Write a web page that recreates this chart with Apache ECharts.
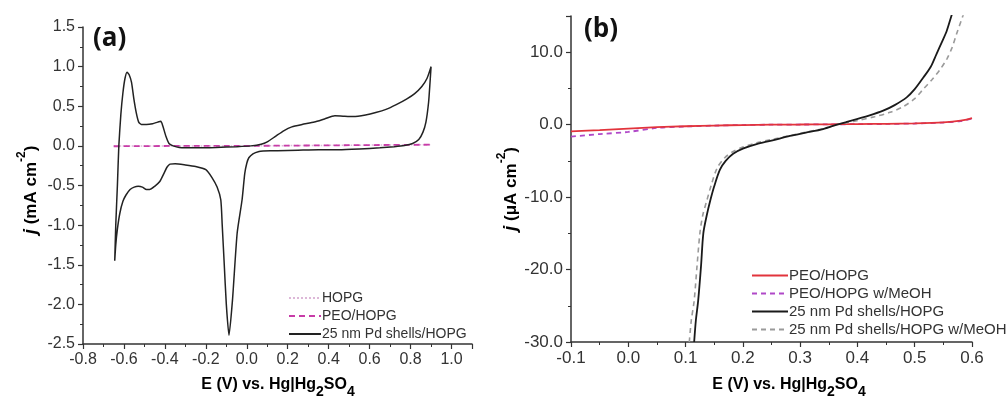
<!DOCTYPE html>
<html>
<head>
<meta charset="utf-8">
<script src="https://cdn.jsdelivr.net/npm/echarts@6/dist/echarts.min.js"></script>
<style>
html,body{margin:0;padding:0;background:#fff;}
#c{width:1006px;height:401px;}
</style>
</head>
<body>
<div id="c"></div>
<script>
// ---------- Panel (a) data: cyclic voltammogram ----------
const cvPdX = [-0.645,-0.640,-0.632,-0.625,-0.615,-0.605,-0.595,-0.585,-0.575,-0.563,-0.552,-0.540,-0.528,-0.515,-0.49,-0.46,-0.435,-0.42,-0.41,-0.395,-0.38,-0.36,-0.33,-0.25,-0.15,-0.05,0.02,0.07,0.10,0.14,0.18,0.22,0.27,0.33,0.38,0.43,0.47,0.52,0.58,0.63,0.68,0.73,0.78,0.82,0.855,0.88,0.90,
  0.895,0.888,0.875,0.86,0.84,0.81,0.77,0.72,0.65,0.55,0.45,0.35,0.25,0.15,0.08,0.06,0.03,0.01,0.0,-0.01,-0.023,-0.047,-0.07,-0.087,-0.10,-0.11,-0.12,-0.127,-0.145,-0.17,-0.2,-0.25,-0.30,-0.35,-0.375,-0.39,-0.405,-0.425,-0.45,-0.475,-0.49,-0.51,-0.53,-0.55,-0.57,-0.59,-0.605,-0.62,-0.632,-0.64,-0.645];
const cvPdY = [-1.45,-1.0,-0.5,0.0,0.4,0.67,0.85,0.93,0.90,0.80,0.60,0.42,0.30,0.27,0.27,0.28,0.30,0.31,0.25,0.12,0.03,0.0,-0.02,-0.025,-0.02,-0.01,0.0,0.02,0.05,0.12,0.19,0.24,0.27,0.30,0.34,0.38,0.375,0.37,0.39,0.42,0.46,0.52,0.59,0.66,0.75,0.85,1.0,
  0.80,0.55,0.30,0.17,0.08,0.03,0.005,-0.01,-0.025,-0.04,-0.05,-0.05,-0.055,-0.06,-0.065,-0.07,-0.10,-0.15,-0.22,-0.35,-0.68,-1.10,-1.95,-2.39,-2.0,-1.5,-1.0,-0.68,-0.52,-0.40,-0.30,-0.26,-0.24,-0.225,-0.23,-0.27,-0.35,-0.45,-0.51,-0.55,-0.55,-0.52,-0.51,-0.52,-0.55,-0.62,-0.70,-0.85,-1.05,-1.25,-1.45];
const cvHopgX = [-0.65,-0.3,0.0,0.3,0.6,0.9];
const cvHopgY = [0.0,0.0,0.0,0.005,0.01,0.015];
const cvPeoX = [-0.65,-0.3,0.0,0.3,0.6,0.9];
const cvPeoY = [-0.005,0.0,0.0,0.005,0.01,0.015];

// ---------- Panel (b) data ----------
const peoX = [-0.1,-0.05,0.0,0.05,0.1,0.15,0.2,0.25,0.3,0.35,0.4,0.45,0.5,0.55,0.58,0.6];
const peoY = [-0.92,-0.75,-0.55,-0.35,-0.22,-0.12,-0.05,0.0,0.02,0.05,0.08,0.12,0.18,0.32,0.55,0.9];
const peoMeX = [-0.1,-0.05,0.0,0.05,0.1,0.15,0.2,0.25,0.3,0.35,0.4,0.45,0.5,0.55,0.58,0.6];
const peoMeY = [-1.65,-1.3,-1.0,-0.45,-0.25,-0.13,-0.05,0.0,0.02,0.04,0.07,0.1,0.16,0.3,0.5,0.85];
const pdX = [0.115,0.118,0.122,0.127,0.131,0.137,0.143,0.15,0.16,0.17,0.183,0.2,0.224,0.25,0.282,0.31,0.34,0.364,0.38,0.399,0.42,0.445,0.465,0.486,0.5,0.515,0.528,0.538,0.548,0.556,0.564,0.57];
const pdY = [-30,-27,-24.3,-19.5,-15,-12.5,-10.5,-8.5,-6.2,-5.0,-4.0,-3.3,-2.67,-2.2,-1.55,-1.1,-0.6,0.0,0.35,0.78,1.25,1.93,2.7,3.77,4.9,6.5,8.0,9.75,11.5,12.97,15,16.5];
const pdMeX = [0.1065,0.11,0.115,0.12,0.125,0.13,0.137,0.145,0.155,0.168,0.183,0.2,0.224,0.25,0.282,0.31,0.34,0.364,0.38,0.399,0.43,0.457,0.48,0.5,0.515,0.53,0.545,0.556,0.565,0.573,0.584,0.59];
const pdMeY = [-30,-27,-24.3,-19.5,-15,-12.5,-10.5,-8.3,-6.0,-4.6,-3.7,-3.1,-2.5,-2.05,-1.5,-1.05,-0.55,0.0,0.25,0.55,1.1,1.7,2.5,3.6,4.9,6.2,7.7,9.06,10.6,12.5,15,16.3];

// ---------- Axis tick settings ----------
const aXTicks = [-0.8,-0.6,-0.4,-0.2,0.0,0.2,0.4,0.6,0.8,1.0];
const aYTicks = [-2.5,-2.0,-1.5,-1.0,-0.5,0.0,0.5,1.0,1.5];
const bXTicks = [-0.1,0.0,0.1,0.2,0.3,0.4,0.5,0.6];
const bYTicks = [-30,-20,-10,0,10];

const zip = (xs, ys) => xs.map((x, i) => [x, ys[i]]);
const FONT = "'Liberation Sans', Arial, sans-serif";
const inList = (list) => (v) => {
  const hit = list.find(t => Math.abs(t - v) < 1e-6);
  return hit === undefined ? '' : hit.toFixed(1);
};

const axisCommon = {
  axisLine: { show: true, onZero: false, lineStyle: { color: '#333', width: 1.5 } },
  axisTick: { show: true, inside: false, length: 5, lineStyle: { color: '#333', width: 1.2 } },
  minorTick: { show: true, splitNumber: 2, length: 3, lineStyle: { color: '#333', width: 1 } },
  splitLine: { show: false },
  minorSplitLine: { show: false },
};

const chart = echarts.init(document.getElementById('c'), null, { renderer: 'canvas' });

const titleRich = {
  t: { fontFamily: FONT, fontSize: 16, fontWeight: 'bold', color: '#222', lineHeight: 22, verticalAlign: 'top' },
  s: { fontFamily: FONT, fontSize: 14, fontWeight: 'bold', color: '#222', lineHeight: 14, padding: [8, 0, 0, 0], verticalAlign: 'top' }
};
const yRich = {
  i: { fontFamily: FONT, fontSize: 19, fontWeight: 'bold', fontStyle: 'italic', color: '#222', lineHeight: 24, verticalAlign: 'bottom' },
  t: { fontFamily: FONT, fontSize: 17, fontWeight: 'bold', color: '#222', lineHeight: 24, verticalAlign: 'bottom' },
  p: { fontFamily: FONT, fontSize: 12, fontWeight: 'bold', color: '#222', lineHeight: 13, verticalAlign: 'top' }
};

chart.setOption({
  animation: false,
  backgroundColor: '#fff',
  grid: [
    { left: 83, top: 27, width: 389, height: 317 },
    { left: 571, top: 16, width: 401, height: 326 }
  ],
  xAxis: [
    Object.assign({}, axisCommon, {
      type: 'value', gridIndex: 0, min: -0.8, max: 1.1, interval: 0.2,
      axisLabel: { fontFamily: FONT, fontSize: 16, color: '#333', margin: 8, formatter: inList(aXTicks), showMaxLabel: true }
    }),
    Object.assign({}, axisCommon, {
      type: 'value', gridIndex: 1, min: -0.1, max: 0.6, interval: 0.1,
      axisLabel: { fontFamily: FONT, fontSize: 17, color: '#333', margin: 8, formatter: inList(bXTicks) }
    })
  ],
  yAxis: [
    Object.assign({}, axisCommon, {
      type: 'value', gridIndex: 0, min: -2.5, max: 1.5, interval: 0.5,
      axisLabel: { fontFamily: FONT, fontSize: 16, color: '#333', margin: 8, formatter: inList(aYTicks) }
    }),
    Object.assign({}, axisCommon, {
      type: 'value', gridIndex: 1, min: -30, max: 15, interval: 10,
      axisLabel: { fontFamily: FONT, fontSize: 17, color: '#333', margin: 8, formatter: inList(bYTicks) }
    })
  ],
  legend: [
    {
      orient: 'vertical', left: 283, top: 286, itemWidth: 32, itemHeight: 14, itemGap: 4,
      itemStyle: { opacity: 0, borderWidth: 0 },
      textStyle: { fontFamily: FONT, fontSize: 14, color: '#333', padding: [0, 0, 0, -4] },
      data: ['HOPG', 'PEO/HOPG', '25 nm Pd shells/HOPG']
    },
    {
      orient: 'vertical', left: 746, top: 263, itemWidth: 36, itemHeight: 14, itemGap: 3,
      itemStyle: { opacity: 0, borderWidth: 0 },
      textStyle: { fontFamily: FONT, fontSize: 15, color: '#333', padding: [0, 0, 0, -4] },
      data: ['PEO/HOPG ', 'PEO/HOPG w/MeOH', '25 nm Pd shells/HOPG ', '25 nm Pd shells/HOPG w/MeOH']
    }
  ],
  series: [
    { name: 'HOPG', type: 'line', xAxisIndex: 0, yAxisIndex: 0, symbol: 'none', data: zip(cvHopgX, cvHopgY),
      lineStyle: { color: '#ddb8d8', width: 1.5, type: 'dotted' }, itemStyle: { color: '#ddb8d8' } },
    { name: 'PEO/HOPG', type: 'line', xAxisIndex: 0, yAxisIndex: 0, symbol: 'none', data: zip(cvPeoX, cvPeoY),
      lineStyle: { color: '#c83ca8', width: 1.8, type: [6, 4] }, itemStyle: { color: '#c83ca8' } },
    { name: '25 nm Pd shells/HOPG', type: 'line', xAxisIndex: 0, yAxisIndex: 0, symbol: 'none', data: zip(cvPdX, cvPdY),
      smooth: 0.2, lineStyle: { color: '#222', width: 1.5 }, itemStyle: { color: '#222' } },

    { name: 'PEO/HOPG ', type: 'line', xAxisIndex: 1, yAxisIndex: 1, symbol: 'none', data: zip(peoX, peoY),
      smooth: 0.3, lineStyle: { color: '#e2343c', width: 1.8 }, itemStyle: { color: '#e2343c' }, z: 4 },
    { name: 'PEO/HOPG w/MeOH', type: 'line', xAxisIndex: 1, yAxisIndex: 1, symbol: 'none', data: zip(peoMeX, peoMeY),
      smooth: 0.3, lineStyle: { color: '#b048c8', width: 1.8, type: [5, 4] }, itemStyle: { color: '#b048c8' }, z: 3 },
    { name: '25 nm Pd shells/HOPG ', type: 'line', xAxisIndex: 1, yAxisIndex: 1, symbol: 'none', data: zip(pdX, pdY),
      smooth: 0.3, lineStyle: { color: '#1a1a1a', width: 1.8 }, itemStyle: { color: '#1a1a1a' }, z: 5 },
    { name: '25 nm Pd shells/HOPG w/MeOH', type: 'line', xAxisIndex: 1, yAxisIndex: 1, symbol: 'none', data: zip(pdMeX, pdMeY),
      smooth: 0.3, lineStyle: { color: '#9a9a9a', width: 1.6, type: [5, 4] }, itemStyle: { color: '#9a9a9a' }, z: 4 }
  ],
  graphic: [
    { type: 'text', left: 93, top: 26, style: { text: '(a)', font: "bold 26px 'Open Sans', 'Liberation Sans', Arial", fill: '#111' } },
    { type: 'text', left: 584, top: 17, style: { text: '(b)', font: "bold 26px 'Open Sans', 'Liberation Sans', Arial", fill: '#111' } },
    { type: 'text', x: 278, y: 388, style: { text: '{t|E (V) vs. Hg|Hg}{s|2}{t|SO}{s|4}', rich: titleRich, align: 'center', verticalAlign: 'middle' } },
    { type: 'text', x: 789, y: 388, style: { text: '{t|E (V) vs. Hg|Hg}{s|2}{t|SO}{s|4}', rich: titleRich, align: 'center', verticalAlign: 'middle' } },
    { type: 'text', x: 28, y: 190, rotation: Math.PI / 2, style: { text: '{i|j}{t| (mA cm}{p|-2}{t|)}', rich: yRich, align: 'center', verticalAlign: 'middle' } },
    { type: 'text', x: 508, y: 189, rotation: Math.PI / 2, style: { text: '{i|j}{t| (μA cm}{p|-2}{t|)}', rich: yRich, align: 'center', verticalAlign: 'middle' } }
  ]
});
</script>
</body>
</html>
